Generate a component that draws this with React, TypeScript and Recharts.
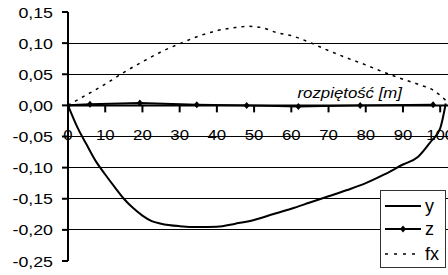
import React from 'react';
import { LineChart, Line, XAxis, YAxis, CartesianGrid, ReferenceLine, Legend } from 'recharts';

// ---- data ----
const ySpan = [0, 2.5, 5, 7.5, 10, 12.5, 15, 17.5, 20, 22.5, 25, 30, 35, 40, 45, 50, 55, 60, 65, 70, 75, 80, 85, 90, 94, 97.5, 100, 101.5];
const yValues = [0, -0.035, -0.063, -0.09, -0.111, -0.131, -0.15, -0.165, -0.177, -0.186, -0.19, -0.194, -0.1955, -0.195, -0.19, -0.184, -0.175, -0.166, -0.156, -0.146, -0.136, -0.125, -0.111, -0.095, -0.083, -0.058, -0.037, 0.003];

const zSpan = [0, 5.9, 19.3, 34.6, 48, 61.9, 78.5, 98.1];
const zValues = [0, 0.002, 0.004, 0.001, 0.0, -0.002, 0.0, 0.001];

const fxSpan = [0, 5, 10, 15, 20, 25, 30, 35, 40, 45, 48, 52, 56, 60, 65, 70, 75, 80, 85, 90, 95, 98, 101.5];
const fxValues = [0, 0.017, 0.034, 0.053, 0.07, 0.086, 0.099, 0.111, 0.12, 0.125, 0.127, 0.125, 0.117, 0.112, 0.101, 0.088, 0.076, 0.065, 0.053, 0.042, 0.032, 0.025, 0.008];

const xTicks = [0, 10, 20, 30, 40, 50, 60, 70, 80, 90, 100];
const yTicks = [-0.25, -0.2, -0.15, -0.1, -0.05, 0, 0.05, 0.1, 0.15];
const gridValues = [-0.2, -0.15, -0.1, -0.05, 0.05, 0.1];
const seriesNames = ['y', 'z', 'fx'];
const axisTitle = 'rozpiętość [m]';

// ---- layout ----
const W = 448;
const H = 275;
const TOP = 12;
const PLOT_H = 249;
const X_AXIS_H = H - TOP - PLOT_H;
const Y_MIN = -0.25;
const Y_MAX = 0.15;
const X_MAX = 102.1;
const Y0 = TOP + PLOT_H * (Y_MAX / (Y_MAX - Y_MIN));
const FONT = '"Liberation Sans", Arial, sans-serif';

const yData = ySpan.map((x, i) => ({ x, v: yValues[i] }));
const zData = zSpan.map((x, i) => ({ x, v: zValues[i] }));
const fxData = fxSpan.map((x, i) => ({ x, v: fxValues[i] }));

const fmt = (v: number) => v.toFixed(2).replace('.', ',');

const YTick = (props: any) => {
  const { x, y, payload } = props;
  return (
    <text
      transform={`translate(${x},${y + 5.5}) scale(1.27,1)`}
      textAnchor="end"
      fontSize={14}
      fontFamily={FONT}
      fill="#000"
    >
      {fmt(payload.value)}
    </text>
  );
};

const XTick = (props: any) => {
  const { x, payload } = props;
  return (
    <g>
      <line x1={x} x2={x} y1={Y0} y2={Y0 + 7} stroke="#000" strokeWidth={2} />
      <text
        transform={`translate(${x},${Y0 + 35}) scale(1.2,1)`}
        textAnchor="middle"
        fontSize={14}
        fontFamily={FONT}
        fill="#000"
      >
        {payload.value}
      </text>
    </g>
  );
};

const AxisTitle = (props: any) => {
  const vb = props.viewBox || {};
  const xEnd = (vb.x || 0) + (vb.width || 0) - 46;
  const yb = (vb.y || 0) - 7.5;
  return (
    <text
      transform={`translate(${xEnd},${yb}) scale(1.2,1)`}
      textAnchor="end"
      fontSize={14}
      fontStyle="italic"
      fontFamily={FONT}
      fill="#000"
    >
      {axisTitle}
    </text>
  );
};

const Diamond = (props: any) => {
  const { cx, cy, index } = props;
  if (cx == null || cy == null) return <g key={`d${index}`} />;
  return (
    <path
      key={`d${index}`}
      d={`M${cx},${cy - 3.5}L${cx + 3},${cy}L${cx},${cy + 3.5}L${cx - 3},${cy}Z`}
      fill="#000"
      stroke="none"
    />
  );
};

const legendStyles: Record<string, { dash?: string; marker?: boolean }> = {
  y: {},
  z: { marker: true },
  fx: { dash: '3 6' },
};

const LegendBox = () => {
  const rowsY = [15, 38, 63];
  return (
    <div
      style={{
        width: 66,
        height: 78,
        boxSizing: 'border-box',
        border: '1px solid #333',
        background: '#fff',
      }}
    >
      <svg width={64} height={76} style={{ display: 'block' }}>
        {seriesNames.map((name, i) => {
          const st = legendStyles[name];
          const cy = rowsY[i];
          return (
            <g key={name}>
              <line
                x1={4}
                x2={40}
                y1={cy}
                y2={cy}
                stroke="#000"
                strokeWidth={st.dash ? 1.5 : 2}
                strokeDasharray={st.dash}
              />
              {st.marker && (
                <path d={`M22,${cy - 3.5}L25,${cy}L22,${cy + 3.5}L19,${cy}Z`} fill="#000" />
              )}
              <text
                x={44}
                y={cy + 6}
                fontSize={18}
                fontFamily={FONT}
                fill="#000"
              >
                {name}
              </text>
            </g>
          );
        })}
      </svg>
    </div>
  );
};

export default function App() {
  return (
    <div style={{ position: 'absolute', left: 0, top: 0, width: W, height: H, background: '#fff' }}>
      <LineChart width={W} height={H} margin={{ top: TOP, right: 0, bottom: 0, left: 0 }}>
        <CartesianGrid
          horizontal
          vertical={false}
          horizontalValues={gridValues}
          stroke="#000"
          strokeWidth={1}
          shapeRendering="crispEdges"
        />
        <XAxis
          dataKey="x"
          type="number"
          domain={[0, X_MAX]}
          allowDataOverflow
          ticks={xTicks}
          interval={0}
          height={X_AXIS_H}
          axisLine={false}
          tickLine={false}
          tick={<XTick />}
        />
        <YAxis
          type="number"
          domain={[Y_MIN, Y_MAX]}
          allowDataOverflow
          ticks={yTicks}
          interval={0}
          width={68}
          axisLine={{ stroke: '#000', strokeWidth: 2 }}
          tickLine={{ stroke: '#000', strokeWidth: 2 }}
          tickSize={6}
          tickMargin={9}
          tick={<YTick />}
        />
        <ReferenceLine y={0} stroke="#000" strokeWidth={2} label={<AxisTitle />} />
        <Line
          data={yData}
          dataKey="v"
          name="y"
          type="monotone"
          stroke="#000"
          strokeWidth={2}
          dot={false}
          isAnimationActive={false}
        />
        <Line
          data={zData}
          dataKey="v"
          name="z"
          type="linear"
          stroke="#000"
          strokeWidth={2}
          dot={<Diamond />}
          isAnimationActive={false}
        />
        <Line
          data={fxData}
          dataKey="v"
          name="fx"
          type="monotone"
          stroke="#000"
          strokeWidth={1.5}
          strokeDasharray="3 5"
          dot={false}
          isAnimationActive={false}
        />
        <Legend
          layout="vertical"
          align="center"
          verticalAlign="middle"
          content={<LegendBox />}
          wrapperStyle={{ position: 'absolute', left: 380, top: 190, width: 66, height: 78, right: 'auto', bottom: 'auto' }}
        />
      </LineChart>
    </div>
  );
}
